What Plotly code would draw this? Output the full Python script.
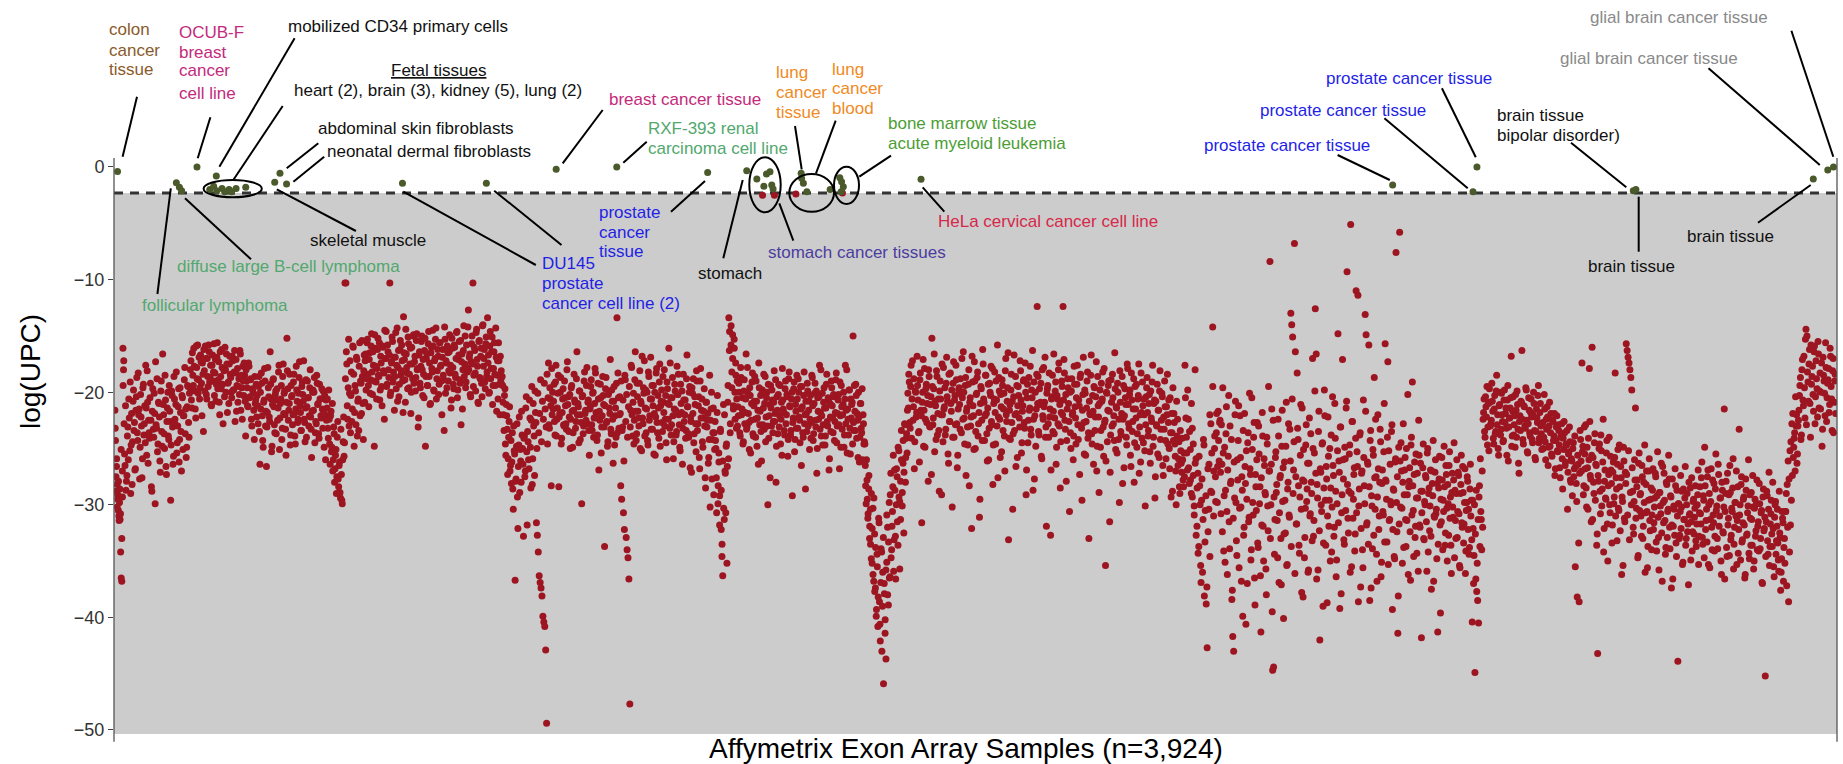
import numpy as np
import plotly.graph_objects as go

W, H = 1843, 764
ML, MR = 114, 6
PW = W - ML - MR
Y_TOP, Y_BOTTOM = 14.83, -53.02   # value range spanned by the full figure height

N_SAMPLES = 3924
THRESHOLD = -2.3
PANEL_BOTTOM = -50.35

# ---------------- data (log(UPC) per sample) ----------------
# red samples: consecutive blocks of sample indices; two interleaved value runs per block
seg_bounds = [2, 23, 173, 326, 485, 526, 572, 884, 1000, 1152, 1369, 1421, 1710,
              1808, 2439, 2519, 3118, 3339, 3612, 3835, 3922]

segA = [-21.6, -24.3, -27.5, -25.9, -28.2, -29.1, -30.5, -31.0, -29.8, -31.3, -34.2, -36.5, -36.8, -27.0, -16.1, -18.0]
segB = [-22.8, -26.5, -28.7, -27.4, -23.1, -20.6, -25.2, -29.0, -21.9, -24.4, -19.8, -22.7, -26.8, -20.4, -23.6, -18.3, -21.5, -24.9, -22.2, -27.6,
        -19.6, -23.8, -21.2, -17.6, -25.6, -20.9, -22.5, -24.1, -19.2, -28.4, -21.7, -23.3, -20.1, -29.9, -22.9, -18.8, -24.6, -21.0, -26.1, -19.9,
        -23.5, -16.6, -22.0, -25.0, -20.7, -27.3, -21.4, -23.9, -19.4, -22.6, -24.7, -20.3, -26.4, -18.6, -22.4, -21.1, -25.4, -23.0, -19.7, -24.2,
        -21.8, -27.0, -20.5, -22.1, -18.9, -23.7, -25.8, -21.3, -19.5, -24.0]
segC = [-19.6, -17.2, -21.4, -18.5, -16.1, -19.9, -22.3, -17.8, -15.8, -18.9, -20.6, -16.7, -19.2, -17.4, -23.5, -18.1, -15.9, -20.2, -17.0, -19.5,
        -16.4, -18.7, -21.1, -17.6, -19.0, -15.7, -18.3, -20.8, -16.9, -19.7, -17.3, -22.0, -18.6, -16.2, -19.3, -17.9, -20.4, -18.0, -16.6, -21.8,
        -19.1, -17.5, -18.4, -20.0, -16.8, -19.8, -18.2, -22.6, -17.1, -19.4, -20.9, -18.8, -16.3, -21.6, -19.6, -17.7, -20.3, -18.5, -23.9, -19.0,
        -21.2, -17.4, -20.5, -18.9, -22.4, -19.7, -20.1, -24.2, -21.0, -19.3]
segD = [-20.3, -22.8, -18.6, -26.4, -21.5, -19.2, -24.3, -20.9, -17.9, -23.0, -26.6, -21.8, -19.6, -22.2, -16.4, -20.6, -24.8, -18.9, -21.3, -23.6,
        -19.9, -20.7, -22.5, -18.2, -25.1, -21.0, -19.4, -23.2, -17.5, -20.1, -22.0, -25.6, -15.2, -19.7, -21.6, -18.4, -23.8, -20.4, -22.9, -19.1,
        -21.9, -24.6, -17.7, -20.8, -22.4, -18.7, -21.2, -23.4, -19.5, -20.2, -17.2, -22.7, -21.4, -24.0, -19.0, -20.5, -22.1, -18.0, -23.3, -21.7,
        -19.8, -20.0, -24.5, -22.6, -18.5, -21.1, -23.7, -19.3, -20.6, -22.3, -21.5, -19.9, -24.9, -22.0, -20.7]
segE = [-21.4, -23.2, -19.8, -24.6, -22.1, -25.3, -21.0, -26.0, -23.7, -26.8, -25.1, -27.5, -22.6, -28.4, -26.2, -29.4, -27.3, -29.9, -24.4, -25.7]
segF = [-10.3, -10.3, -17.5, -22.4, -15.3, -20.1, -23.6, -18.2, -21.5, -16.0, -24.8, -19.4, -22.9, -17.1, -20.8, -23.4, -15.6, -19.0, -21.9, -18.6,
        -24.2, -16.7]
segG = [-17.2, -19.8, -15.6, -18.4, -21.3, -16.5, -18.9, -14.8, -20.2, -17.6, -24.8, -16.1, -19.1, -17.9, -15.2, -18.6, -20.7, -16.8, -19.5, -15.9,
        -18.1, -22.4, -17.0, -14.6, -19.3, -16.4, -18.7, -10.3, -20.0, -17.4, -15.5, -18.2, -21.6, -16.9, -19.7, -14.3, -17.8, -20.4, -16.2, -18.5,
        -15.8, -19.0, -13.3, -17.1, -20.9, -16.6, -18.3, -15.1, -19.6, -17.5, -21.9, -16.0, -18.8, -14.9, -17.3, -19.9, -15.4, -18.0, -23.1, -16.7,
        -19.2, -17.7, -15.0, -20.3, -18.4, -16.3, -24.8, -17.0, -19.4, -15.7, -18.6, -21.1, -16.5, -17.9, -14.5, -19.8, -17.2, -15.3, -20.6, -18.1,
        -16.8, -19.3, -15.6, -17.6, -22.0, -16.2, -18.9, -14.2, -20.1, -17.4, -15.9, -19.0, -16.4, -18.3, -21.4, -15.2, -17.8, -19.7, -16.0, -18.7,
        -14.7, -20.5, -17.1, -15.5, -19.2, -22.9, -16.6, -18.0, -14.1, -17.5, -19.6, -15.8, -18.2, -12.7, -16.9, -20.2, -17.3, -15.0, -10.3, -18.5,
        -16.3, -19.9, -14.4, -17.7, -21.0, -15.4, -18.8, -16.1, -20.4, -14.0, -17.0, -19.1, -15.7, -18.6, -13.4, -16.7, -20.0, -14.6, -17.9, -15.1,
        -19.4, -16.4, -18.4, -14.3, -21.7, -17.2, -15.6, -19.3, -16.8, -18.1]
segH = [-18.6, -20.9, -23.4, -19.7, -25.6, -22.1, -27.3, -24.0, -21.3, -26.5, -28.1, -23.6, -30.4, -25.2, -36.7, -27.7, -22.8, -32.1, -24.7, -28.9,
        -26.1, -21.7, -25.0, -32.8, -23.9, -27.0, -20.4, -31.8, -24.4, -26.8, -22.3, -28.5, -19.5, -25.9, -23.0, -27.4, -21.8, -31.6, -32.7, -34.2,
        -36.3, -36.9, -37.4, -38.1, -39.9, -40.4, -40.8, -42.9, -49.4, -24.6, -17.4, -23.2, -20.6, -28.3, -22.0]
segI = [-21.5, -19.3, -23.8, -17.6, -22.4, -20.1, -28.4, -21.9, -18.7, -24.1, -20.6, -22.9, -19.0, -21.2, -23.3, -17.3, -20.4, -22.2, -25.0, -19.6,
        -21.7, -23.6, -18.4, -20.9, -22.6, -16.4, -21.0, -24.5, -19.9, -22.0, -29.9, -20.3, -23.0, -18.2, -21.6, -19.4, -22.8, -20.7, -25.6, -21.3,
        -18.9, -23.4, -20.0, -22.3, -17.9, -21.8, -24.3, -19.2, -26.9, -22.5, -20.5, -23.1, -18.6, -21.1, -33.7, -19.7, -22.7, -24.8, -20.2, -21.4,
        -17.1, -23.7, -20.8, -26.3, -19.5, -22.1, -24.0, -13.4, -18.3, -23.2]
segJ = [-20.4, -28.3, -29.5, -23.1, -30.7, -32.2, -18.9, -32.9, -34.0, -34.7, -36.6, -47.7, -21.6, -17.8, -23.9, -20.1, -22.5, -16.4, -24.3, -19.2,
        -21.7, -23.0, -18.1, -20.8, -25.2, -22.3, -19.6, -17.2, -21.4, -23.6, -20.0, -24.7, -18.6, -22.1, -16.9, -20.6, -23.3, -19.4, -21.9, -25.6,
        -18.3, -22.7, -20.3, -24.1, -17.5, -21.2, -19.8, -23.5, -20.9, -18.0, -22.4, -24.5, -19.1, -21.0, -16.1, -23.2, -20.5, -22.9, -18.7, -25.9,
        -21.5, -19.9, -23.8, -17.7, -20.2, -22.0, -24.9, -19.3, -21.8, -26.4, -18.4, -22.6, -20.7, -23.4, -16.7, -21.3, -24.0, -19.5, -22.2, -27.1,
        -20.1, -18.8, -23.7, -21.1, -25.3, -19.0, -22.8, -20.4, -26.8, -17.9, -21.6, -24.4, -22.3, -19.7, -27.6, -20.9, -23.1, -21.9, -25.8, -18.5,
        -22.5, -20.0, -24.2, -21.4, -23.6]
segK = [-22.6, -25.0, -30.7, -20.3, -28.3, -26.2, -29.2, -23.5, -32.2, -34.6, -36.3, -21.1, -31.3, -27.0, -30.7, -24.6, -26.6, -19.4, -13.4, -14.6,
        -22.8, -14.1, -18.2, -14.9, -21.5, -15.3, -20.0, -17.4, -23.2, -19.0]
segL = [-21.3, -19.2, -23.6, -17.8, -22.0, -20.5, -24.4, -18.9, -21.8, -16.6, -23.1, -20.1, -22.7, -19.6, -25.4, -21.0, -18.3, -23.9, -20.8, -22.4,
        -19.0, -24.8, -21.6, -17.4, -22.9, -20.3, -26.1, -19.8, -21.4, -23.3, -18.6, -22.2, -20.0, -30.0, -24.1, -21.1, -19.4, -23.0, -20.7, -22.6,
        -18.1, -21.9, -28.0, -20.4, -23.7, -19.3, -22.1, -24.6, -20.9, -17.9, -21.5, -23.4, -19.7, -22.8, -20.2, -25.7, -18.8, -21.2, -23.8, -20.6,
        -29.2, -22.3, -19.1, -24.2, -21.7, -18.5, -23.2, -20.0, -22.5, -19.5, -26.5, -21.3, -24.0, -18.2, -22.0, -20.8, -23.5, -19.9, -21.6, -25.1,
        -20.3, -22.7, -18.7, -24.3, -21.0, -19.2, -23.1, -27.2, -20.5, -22.4, -17.6, -21.8, -23.9, -20.1, -22.9, -19.6, -24.7, -21.4, -18.4, -23.0,
        -20.7, -25.9, -22.2, -19.0, -21.2, -23.6, -20.4, -22.6, -18.9, -24.5, -21.9, -20.2, -26.8, -22.1, -19.4, -23.3, -21.1, -24.9, -20.6, -22.8,
        -18.0, -21.5, -23.8, -19.8, -25.5, -22.3, -20.9, -15.0, -23.4, -21.7, -19.3, -24.1, -22.5, -20.0, -26.2, -21.0, -23.2, -19.7, -22.0, -24.6]
segM = [-24.6, -28.3, -26.0, -29.5, -30.8, -27.4, -31.9, -33.5, -29.0, -35.2, -30.3, -36.8, -32.6, -37.4, -39.9, -34.4, -40.8, -31.2, -38.6, -42.1,
        -33.9, -43.0, -36.0, -45.9, -37.9, -40.2, -43.7, -35.1, -32.0, -38.9, -29.8, -36.4, -27.2, -34.0, -30.6, -25.6, -33.1, -28.7, -36.6, -26.8,
        -31.5, -24.9, -29.3, -35.7, -27.9, -23.4, -30.1, -26.3, -32.5, -22.8, -28.0, -24.1, -25.4]
segN = [-20.1, -18.4, -22.7, -19.5, -24.1, -17.2, -21.3, -26.8, -19.9, -22.2, -16.8, -20.7, -23.5, -18.9, -21.6, -31.6, -20.0, -24.8, -17.9, -22.4,
        -19.3, -21.0, -27.9, -18.6, -23.1, -20.4, -15.2, -22.9, -19.7, -25.3, -21.2, -18.1, -23.8, -20.6, -28.8, -19.0, -22.0, -17.5, -24.4, -21.5,
        -19.6, -23.3, -16.9, -20.8, -26.3, -22.6, -18.3, -21.7, -30.2, -19.2, -24.0, -20.3, -17.6, -22.8, -25.6, -19.8, -21.1, -18.8, -23.6, -20.5,
        -16.4, -22.3, -19.4, -27.4, -21.4, -24.7, -18.0, -20.9, -23.0, -32.1, -19.1, -22.1, -17.3, -25.0, -20.2, -18.7, -23.9, -21.8, -29.5, -19.5,
        -22.5, -16.2, -20.6, -24.3, -18.5, -21.9, -26.1, -19.3, -23.2, -20.0, -17.7, -22.9, -28.2, -21.0, -18.2, -24.6, -20.7, -15.8, -22.2, -19.9,
        -25.8, -21.3, -18.9, -23.4, -20.1, -27.0, -17.0, -22.6, -19.6, -33.1, -21.6, -24.2, -18.4, -20.8, -23.7, -16.7, -22.0, -26.6, -19.4, -21.2,
        -20.3, -23.1, -18.1, -25.4, -21.7, -19.0, -22.7, -17.4, -29.1, -20.5, -24.5, -18.7, -21.4, -23.3, -19.8, -16.3, -22.4, -27.7, -20.0, -21.5,
        -12.4, -18.6, -23.8, -21.1, -19.2, -25.9, -22.1, -17.8, -20.9, -24.0, -31.9, -19.7, -22.8, -18.3, -21.5, -26.9, -20.4, -23.5, -16.6, -22.3,
        -19.1, -24.9, -20.6, -18.0, -23.0, -28.5, -21.8, -19.5, -12.4, -17.1, -22.5, -20.2, -24.3, -18.8, -21.0, -30.6, -23.6, -19.9, -22.0, -26.0,
        -17.7, -21.3, -24.6, -19.3, -22.9, -20.7, -27.3, -18.4, -23.2, -21.6, -16.9, -25.5, -20.1, -22.6, -19.0, -24.1, -33.0, -21.9, -18.5, -23.7,
        -20.3, -26.4, -19.6, -22.2, -17.3, -24.8, -21.2, -28.9, -19.8, -23.4, -20.8, -18.2, -25.7, -22.7, -35.4, -20.0, -24.4, -19.4, -21.7, -27.1,
        -18.9, -23.0, -20.5, -22.1, -16.5, -25.1, -21.4, -19.2, -24.2, -29.8, -20.9, -23.8, -18.6, -22.4, -26.7, -19.7, -21.1, -24.7, -17.9, -22.8,
        -20.2, -25.6, -18.3, -23.5, -21.5, -28.0, -19.5, -22.3, -24.9, -20.6, -17.5, -23.1, -26.2, -21.8, -19.1, -24.5, -22.0, -30.1, -20.4, -18.7,
        -23.9, -21.0, -25.3, -19.9, -22.6, -17.6, -24.0, -20.7, -27.5, -22.9, -19.3, -21.6, -25.8, -18.1, -23.3, -20.1, -26.5, -22.2, -19.0, -24.3,
        -21.3, -18.4, -22.7, -25.0, -20.5, -29.3, -23.6, -19.6, -21.9, -24.6, -27.0, -20.8, -22.4, -25.9, -28.4, -23.4, -26.3, -24.1, -27.8, -25.4]
segO = [-17.6, -22.3, -25.4, -19.8, -26.7, -23.5, -27.8, -21.0, -29.3, -24.6, -30.1, -18.0, -25.9, -31.9, -27.2, -33.7, -28.3, -35.4, -29.6, -36.0,
        -24.2, -38.1, -30.5, -38.8, -42.7, -32.4, -26.4, -34.6, -22.8, -28.9, -14.2, -31.0, -25.0, -27.5, -23.6, -29.8, -21.7, -26.1]
segP = [-22.5, -30.8, -26.4, -19.6, -34.1, -24.9, -28.7, -21.3, -36.2, -25.7, -31.5, -23.0, -27.9, -38.4, -41.7, -43.0, -29.4, -20.8, -33.2, -26.0,
        -24.3, -35.6, -22.1, -30.2, -27.5, -39.9, -32.7, -21.9, -28.1, -25.2, -37.0, -23.6, -31.1, -26.8, -34.9, -20.5, -29.8, -24.0, -36.5, -27.3,
        -30.5, -22.7, -33.8, -25.5, -28.4, -41.3, -31.8, -23.9, -35.0, -26.5, -29.1, -38.0, -24.6, -32.3, -27.0, -8.4, -30.0, -21.5, -44.7, -44.4,
        -34.4, -25.8, -28.9, -31.4, -22.4, -36.9, -27.6, -33.0, -24.8, -29.7, -40.1, -26.2, -32.5, -20.9, -35.3, -28.0, -30.9, -23.3, -13.0, -14.0,
        -15.1, -26.9, -6.8, -16.4, -31.7, -18.3, -24.2, -33.6, -29.3, -21.1, -37.8, -27.8, -25.1, -34.7, -30.3, -22.9, -28.6, -36.0, -26.3, -31.0,
        -23.7, -29.0, -17.0, -32.8, -25.4, -12.6, -16.6, -28.2, -35.8, -21.7, -42.0, -27.1, -30.6, -24.5, -33.4, -19.8, -29.6, -26.6, -38.7, -22.2,
        -31.9, -25.0, -28.5, -34.2, -20.4, -27.4, -32.0, -24.1, -36.4, -29.9, -14.8, -26.1, -39.2, -23.1, -30.7, -17.1, -27.7, -33.5, -25.9, -21.4,
        -9.3, -31.2, -28.8, -24.7, -5.1, -35.5, -22.6, -29.5, -26.7, -32.6, -11.0, -25.3, -11.4, -30.1, -23.8, -37.3, -27.2, -34.0, -20.7, -28.3,
        -13.1, -14.9, -31.6, -26.4, -15.8, -38.5, -23.4, -29.2, -33.9, -25.6, -18.7, -30.4, -27.5, -36.8, -22.0, -32.2, -28.0, -24.4, -35.1, -26.9,
        -30.9, -21.0, -15.7, -27.9, -33.3, -17.3, -25.2, -31.3, -29.7, -23.5, -39.3, -28.6, -34.6, -26.2, -7.6, -32.4, -41.4, -24.9, -5.8, -30.2,
        -27.0, -35.2, -22.8, -29.1, -25.8, -33.7, -31.4, -20.2, -28.4, -26.7, -36.7, -24.0, -19.1, -30.5, -27.3, -32.9, -25.5, -34.3, -29.4, -22.5,
        -31.8, -26.3, -41.8, -28.8, -24.6, -33.1, -30.0, -27.6, -35.9, -25.0, -29.0, -32.3, -26.9, -37.5, -28.1, -24.3, -31.0, -27.1, -30.8, -34.8,
        -41.3, -28.5, -25.7, -39.6, -31.5, -27.8, -29.6, -24.8, -33.6, -26.5, -30.3, -28.2, -32.7, -25.3, -29.3, -36.1, -27.2, -31.1, -24.5, -28.7,
        -33.0, -26.0, -30.6, -27.4, -35.4, -29.0, -25.6, -32.0, -28.9, -31.7, -26.8, -34.1, -29.8, -27.9, -30.4, -33.8, -26.4, -29.6, -40.4, -32.1,
        -34.5, -44.9, -36.6, -37.7, -38.5, -40.5, -28.3, -25.9, -31.3, -27.0]
segQ = [-22.4, -20.6, -24.0, -21.3, -19.5, -23.1, -25.2, -20.9, -22.8, -19.2, -21.7, -24.6, -20.3, -23.5, -18.5, -22.0, -25.6, -21.1, -23.8, -20.1,
        -22.6, -24.3, -19.8, -21.9, -23.2, -20.7, -26.1, -22.3, -21.4, -16.8, -23.9, -20.4, -22.9, -24.9, -21.6, -19.9, -23.3, -27.2, -22.1, -20.8,
        -16.3, -24.2, -21.2, -23.0, -19.6, -22.5, -25.4, -20.5, -23.6, -21.8, -22.2, -24.5, -20.0, -23.4, -26.0, -21.5, -22.7, -19.4, -24.1, -21.0,
        -23.7, -22.9, -25.0, -20.2, -24.4, -22.4, -21.3, -26.5, -23.0, -24.8, -21.9, -25.7, -22.6, -23.9, -27.4, -24.3, -22.1, -25.3, -23.4, -26.7,
        -24.0, -22.8, -28.6, -25.1, -23.6, -26.2, -24.7, -30.4, -25.5, -23.1, -27.8, -25.9, -29.2, -24.5, -26.8, -35.5, -28.1, -38.2, -26.4, -38.6]
segR = [-23.4, -26.1, -17.4, -24.8, -28.3, -25.5, -22.9, -30.2, -26.7, -24.1, -17.9, -27.4, -31.5, -16.0, -25.8, -29.0, -23.7, -26.4, -33.6, -43.2,
        -27.9, -24.6, -30.8, -25.2, -28.6, -22.4, -32.1, -26.9, -29.5, -24.3, -35.0, -27.3, -30.0, -25.7, -28.1, -31.8, -26.2, -29.3, -18.3, -27.6,
        -33.2, -25.1, -30.5, -28.4, -26.6, -36.2, -29.7, -24.9, -31.2, -27.1, -15.7, -16.3, -16.9, -17.4, -18.0, -18.7, -19.8, -28.8, -32.6, -26.0,
        -21.4, -30.3, -27.8, -34.5, -25.4, -29.1, -31.0, -26.5, -33.0, -28.0, -24.7, -30.7, -27.0, -35.6, -29.6, -25.9, -32.3, -28.5, -30.9, -26.8,
        -31.6, -29.4, -27.5, -34.1, -25.3, -32.9, -28.9, -30.1, -26.3, -36.8, -29.8, -27.2, -31.4, -33.8, -28.2, -30.6, -25.6, -32.0, -29.2, -37.4,
        -27.7, -31.9, -30.4, -26.8, -33.4, -28.7, -43.9, -29.9, -32.7, -27.4, -30.2, -35.3, -28.6, -31.3, -26.6, -33.0, -29.0, -31.7, -28.0, -30.8,
        -34.9, -27.6, -32.4, -29.5, -31.1, -28.3, -33.7, -30.0, -26.9, -32.8]
segS = [-28.4, -31.7, -26.2, -33.5, -29.6, -24.9, -32.2, -30.4, -27.5, -35.3, -29.0, -31.3, -26.8, -34.0, -30.9, -28.1, -32.8, -25.5, -30.1, -33.9,
        -27.3, -31.0, -29.4, -36.2, -28.7, -32.5, -21.5, -30.6, -27.9, -34.6, -31.8, -29.1, -26.5, -33.1, -30.3, -28.5, -35.7, -32.0, -29.8, -27.0,
        -31.4, -34.3, -23.3, -30.0, -28.2, -33.3, -31.6, -29.3, -36.5, -27.7, -32.7, -30.7, -26.0, -34.8, -31.2, -28.9, -33.6, -30.2, -35.0, -29.5,
        -32.3, -27.8, -31.9, -34.1, -29.9, -33.0, -30.5, -37.0, -28.6, -32.1, -45.2, -31.5, -29.2, -34.4, -27.1, -33.7, -30.8, -32.6, -28.0, -35.5,
        -31.1, -29.7, -33.2, -30.4, -34.9, -28.8, -32.9, -36.0, -30.6, -31.6, -33.8, -35.2, -30.6, -37.2, -32.0, -38.6, -34.2, -31.8, -29.6, -27.4,
        -25.8, -24.1, -27.0, -23.0, -26.3]
segT = [-23.0, -21.6, -19.4, -24.2, -18.0, -20.7, -16.8, -22.3, -14.4, -15.0, -19.1, -17.5, -21.0, -15.8, -18.6, -20.2, -16.4, -22.8, -17.2, -19.7,
        -15.5, -21.4, -18.3, -20.0, -24.8, -16.9, -19.0, -22.1, -17.8, -20.5, -18.9, -21.8, -16.1, -19.5, -23.4, -17.0, -20.9, -18.4]

# second interleaved run of samples in each block
segA2 = [-23.2, -28.8, -26.6, -30.2, -29.5, -27.9, -31.4, -28.6, -30.8, -25.1, -33.0, -29.3, -19.4, -17.2]
segB2 = [-25.5, -21.2, -27.9, -23.9, -26.0, -22.3, -19.1, -24.7, -28.2, -20.8, -23.4, -26.9, -21.6, -18.7, -24.3, -22.0, -27.7, -20.2, -23.0, -25.9,
         -19.3, -22.8, -24.5, -21.4, -18.1, -26.3, -23.6, -20.5, -22.5, -28.8, -19.7, -24.0, -21.9, -17.3, -23.2, -25.3, -20.9, -22.2, -27.1, -19.0,
         -24.8, -21.1, -23.7, -18.5, -26.6, -22.6, -20.0, -24.2, -21.7, -29.6, -19.9, -23.1, -25.7, -20.6, -22.9, -18.2, -24.5, -21.3, -26.2, -19.6,
         -23.5, -20.3, -25.1, -22.1, -17.8, -21.5, -24.9, -19.4, -22.7, -20.1]
segC2 = [-18.0, -20.7, -16.5, -19.4, -17.7, -21.5, -15.9, -18.8, -20.1, -16.9, -19.6, -17.3, -22.1, -18.4, -16.2, -19.9, -17.0, -20.6, -18.6, -15.8,
         -19.1, -17.6, -21.2, -16.7, -18.2, -20.3, -17.1, -19.3, -15.6, -18.9, -20.9, -16.4, -19.7, -17.8, -22.8, -18.1, -16.0, -20.0, -17.5, -19.2,
         -21.0, -16.8, -18.7, -20.5, -17.2, -19.8, -16.3, -18.3, -21.7, -17.9, -19.5, -20.2, -16.6, -18.5, -22.4, -19.0, -17.4, -20.8, -18.0, -19.6,
         -21.3, -17.7, -20.4, -18.8, -23.0, -19.9, -21.6, -18.6, -20.7, -22.2]
segD2 = [-21.2, -19.5, -23.5, -20.0, -18.3, -22.1, -24.9, -20.7, -19.0, -21.7, -23.1, -17.8, -20.4, -22.6, -19.3, -25.3, -21.1, -18.8, -22.9, -20.2,
         -23.7, -19.7, -21.4, -17.6, -22.3, -20.6, -24.2, -18.6, -21.9, -19.9, -23.3, -20.9, -18.1, -22.5, -21.0, -24.7, -19.4, -20.3, -22.0, -18.4,
         -23.9, -21.5, -19.8, -22.7, -20.1, -17.3, -21.8, -23.4, -19.1, -20.8, -22.4, -24.4, -18.9, -21.3, -20.5, -23.0, -19.6, -22.2, -25.8, -20.0,
         -21.6, -18.7, -23.6, -22.8, -19.2, -21.0, -24.1, -20.6, -22.1, -19.7, -23.2, -21.9, -20.3, -26.0, -22.5]
segE2 = [-20.6, -24.1, -22.4, -26.4, -21.7, -24.9, -27.0, -23.1, -28.0, -25.6, -29.0, -24.0, -27.7, -26.5, -28.9, -23.3, -29.6, -26.0, -22.2, -24.5]
segF2 = [-18.8, -16.4, -21.2, -19.6, -23.0, -17.2, -20.3, -22.6, -15.9, -18.4, -21.8, -19.9, -16.9, -23.9, -20.6, -17.7, -22.1, -19.2, -15.4, -21.0,
         -18.1, -20.9]
segG2 = [-16.6, -18.8, -15.3, -19.4, -17.1, -20.1, -15.9, -18.2, -16.4, -19.0, -14.9, -17.7, -20.6, -16.2, -18.5, -15.6, -19.8, -17.4, -21.2, -16.0,
         -18.3, -14.5, -17.0, -19.5, -15.8, -18.0, -16.7, -20.3, -17.3, -15.1, -19.1, -16.9, -18.6, -14.7, -17.6, -20.8, -16.3, -19.3, -15.4, -18.1,
         -17.2, -21.8, -16.5, -18.9, -14.4, -17.8, -19.7, -15.7, -18.4, -16.1, -20.0, -17.5, -15.0, -19.2, -16.8, -18.7, -14.8, -17.9, -22.3, -16.4,
         -19.6, -15.5, -18.0, -17.1, -20.5, -15.2, -18.6, -16.6, -19.4, -14.6, -17.4, -21.0, -16.0, -18.2, -15.9, -19.9, -17.0, -14.3, -18.8, -16.2,
         -20.2, -15.6, -17.7, -19.0, -16.9, -18.5, -23.4, -15.3, -17.2, -19.6, -16.5, -18.1, -14.9, -17.6, -20.7, -16.1, -19.3, -15.8, -18.4, -17.0,
         -14.6, -19.8, -16.7, -18.9, -15.4, -17.3, -21.5, -16.3, -18.6, -15.0, -19.1, -17.8, -14.2, -18.0, -16.6, -20.4, -15.7, -17.5, -19.5, -16.0,
         -18.3, -14.7, -17.1, -20.9, -15.5, -18.7, -16.8, -19.2, -14.1, -17.7, -16.2, -19.7, -15.1, -18.2, -17.4, -20.1, -15.9, -18.8, -16.4, -21.1,
         -17.9, -15.6, -19.4, -16.9, -18.5, -20.6, -17.2, -22.0, -18.9, -19.3]
segH2 = [-19.4, -22.0, -20.3, -24.6, -21.1, -23.3, -25.9, -22.6, -27.0, -24.3, -26.2, -28.6, -23.0, -25.5, -27.9, -24.8, -29.3, -26.6, -22.2, -25.1,
         -28.0, -23.8, -26.4, -24.1, -27.5, -21.4, -25.3, -23.5, -26.0, -20.7, -24.9, -22.5, -28.2, -21.0, -23.9, -19.9, -22.7, -25.0, -20.1, -23.6,
         -21.9, -18.9, -24.4, -20.8, -22.4, -19.2, -21.5, -23.1, -18.4, -20.5, -22.9, -19.6, -21.2, -17.9, -20.0]
segI2 = [-20.8, -22.6, -19.1, -23.9, -21.4, -18.5, -22.2, -20.0, -24.6, -21.8, -19.7, -23.0, -20.5, -22.8, -18.0, -21.1, -23.5, -20.2, -22.4, -19.4,
         -24.9, -21.6, -20.7, -23.2, -18.8, -22.0, -21.3, -19.9, -24.2, -22.7, -20.4, -23.7, -19.0, -21.9, -22.5, -17.8, -20.9, -23.4, -21.5, -19.5,
         -22.9, -20.1, -24.0, -21.0, -18.3, -22.3, -23.8, -20.6, -21.7, -19.3, -25.4, -22.1, -20.3, -23.1, -21.2, -18.7, -22.6, -24.4, -20.0, -21.9,
         -23.3, -19.8, -22.4, -20.8, -24.7, -21.4, -19.2, -23.6, -20.5, -22.0]
segJ2 = [-21.9, -19.0, -23.4, -20.7, -26.1, -18.5, -22.6, -20.2, -24.0, -21.3, -19.5, -23.1, -17.6, -22.0, -20.9, -24.6, -18.9, -21.7, -23.7, -20.4,
         -22.3, -19.2, -25.0, -21.0, -16.8, -22.8, -20.1, -23.9, -19.8, -21.5, -24.3, -18.2, -22.5, -20.6, -23.3, -19.4, -21.2, -25.5, -20.0, -22.2,
         -17.9, -23.6, -21.4, -19.1, -24.8, -20.8, -22.7, -18.6, -21.8, -23.0, -20.3, -26.0, -19.7, -22.4, -21.1, -17.4, -23.8, -20.5, -22.1, -24.4,
         -19.3, -21.6, -23.5, -20.2, -18.4, -22.9, -25.2, -21.0, -19.9, -23.2, -20.7, -22.0, -24.1, -18.8, -21.3, -23.7, -20.0, -26.7, -22.6, -19.6,
         -21.9, -24.5, -20.4, -22.8, -18.1, -23.4, -21.2, -25.8, -19.0, -22.3, -20.6, -24.9, -21.7, -23.0, -28.5, -20.9, -22.5, -26.3, -24.2, -30.2,
         -21.5, -27.7, -23.6, -29.1, -25.1]
segK2 = [-24.3, -27.6, -21.8, -29.9, -25.4, -31.8, -23.3, -28.7, -33.5, -26.1, -30.3, -22.0, -27.2, -24.8, -35.2, -20.9, -25.9, -16.3, -23.6, -15.8,
         -19.6, -17.0, -21.2, -16.1, -22.4, -18.5, -20.6, -23.0]
segL2 = [-22.1, -20.0, -23.9, -18.7, -21.5, -24.6, -19.9, -22.8, -20.6, -23.3, -17.8, -21.9, -25.1, -20.3, -22.5, -19.1, -23.7, -21.2, -18.6, -24.0,
         -20.8, -22.3, -26.4, -19.6, -21.7, -23.5, -20.1, -22.9, -18.4, -21.0, -24.4, -20.5, -23.0, -19.3, -22.1, -27.6, -21.4, -19.8, -23.6, -20.9,
         -22.6, -18.9, -24.8, -21.6, -20.2, -23.1, -19.4, -22.4, -25.6, -20.7, -21.8, -23.8, -19.0, -22.0, -20.4, -24.2, -18.2, -21.3, -23.4, -20.0,
         -22.7, -19.7, -25.3, -21.1, -23.2, -20.6, -18.8, -22.2, -24.5, -21.5, -19.5, -23.6, -20.3, -22.8, -28.6, -21.9, -19.2, -23.0, -20.8, -22.4,
         -24.1, -18.5, -21.2, -23.7, -20.1, -22.5, -19.9, -25.0, -21.7, -20.4, -23.3, -18.0, -22.1, -24.7, -20.9, -21.4, -23.9, -19.3, -22.6, -20.5,
         -26.9, -21.0, -23.5, -19.6, -22.3, -20.2, -24.3, -21.8, -18.3, -23.0, -20.7, -22.9, -19.1, -24.9, -21.3, -22.0, -20.0, -23.8, -17.6, -21.6,
         -25.4, -22.4, -19.8, -23.2, -20.6, -21.1, -24.6, -22.7, -19.4, -23.4, -20.3, -21.9, -25.8, -22.2, -24.0, -21.0, -23.6, -26.0, -22.8, -24.4]
segM2 = [-26.5, -29.9, -27.8, -31.2, -28.6, -33.0, -30.4, -34.8, -32.1, -36.2, -29.4, -37.7, -33.8, -39.3, -35.5, -38.2, -31.6, -40.6, -36.9, -34.2,
         -39.0, -32.9, -37.0, -41.4, -35.8, -30.9, -38.0, -33.3, -36.5, -29.1, -34.7, -31.9, -28.4, -35.9, -26.9, -32.8, -30.0, -27.5, -33.6, -25.2,
         -29.7, -31.3, -26.0, -28.9, -24.3, -27.1, -22.9, -25.8, -23.7, -21.6]
segN2 = [-21.4, -19.1, -23.2, -17.6, -20.6, -22.5, -18.8, -24.4, -20.0, -21.8, -19.4, -23.6, -26.2, -18.3, -22.1, -20.9, -17.1, -21.6, -24.9, -19.7,
         -22.7, -20.3, -18.0, -23.0, -21.1, -27.3, -19.5, -22.3, -16.6, -20.8, -24.2, -18.6, -21.9, -23.4, -19.9, -20.6, -29.1, -22.0, -17.8, -21.3,
         -23.8, -19.2, -20.4, -25.5, -18.4, -22.6, -21.0, -19.8, -24.0, -17.3, -20.7, -22.9, -18.9, -26.7, -21.5, -19.6, -23.3, -20.2, -17.0, -22.4,
         -20.0, -24.6, -18.7, -21.7, -23.1, -19.3, -28.3, -20.5, -22.2, -16.8, -21.2, -25.1, -19.0, -23.5, -20.1, -18.2, -22.8, -31.1, -21.0, -19.7,
         -24.3, -17.5, -20.9, -22.1, -18.5, -23.7, -21.4, -26.0, -19.2, -20.3, -22.6, -17.9, -24.7, -20.6, -21.8, -19.0, -23.0, -27.6, -18.7, -22.4,
         -20.2, -25.3, -19.4, -21.5, -23.9, -18.1, -22.0, -20.8, -16.5, -24.1, -21.1, -19.8, -22.7, -30.4, -20.4, -23.4, -18.6, -21.9, -25.8, -19.5,
         -22.3, -17.2, -20.7, -24.5, -21.2, -18.9, -23.2, -20.0, -26.9, -19.3, -22.5, -21.6, -17.7, -23.8, -20.5, -28.7, -19.1, -22.1, -24.8, -18.4,
         -21.0, -23.5, -19.7, -20.9, -25.7, -18.0, -22.4, -21.3, -16.9, -23.1, -20.1, -19.4, -24.0, -22.2, -32.7, -20.6, -18.5, -21.7, -23.7, -19.9,
         -26.4, -20.3, -22.8, -17.4, -21.1, -24.4, -19.0, -22.0, -20.7, -18.3, -23.3, -27.9, -21.5, -19.6, -22.6, -20.0, -25.0, -18.8, -21.8, -23.9,
         -19.3, -22.3, -20.5, -17.6, -24.2, -21.2, -18.7, -23.0, -29.6, -20.2, -22.7, -19.8, -25.6, -21.4, -18.2, -23.6, -20.8, -22.0, -16.7, -24.6,
         -21.7, -19.5, -23.4, -20.4, -27.0, -18.6, -22.2, -21.0, -24.9, -19.2, -20.6, -23.1, -17.9, -22.5, -26.1, -20.1, -21.6, -19.0, -31.5, -23.8,
         -20.9, -18.4, -22.8, -24.3, -19.7, -21.3, -25.4, -20.0, -22.4, -18.1, -23.5, -21.9, -28.1, -19.4, -22.1, -20.5, -24.0, -17.5, -21.1, -23.2,
         -19.8, -26.6, -20.7, -22.6, -18.8, -24.5, -21.5, -19.3, -23.7, -20.3, -27.2, -22.0, -18.3, -24.1, -21.2, -20.6, -25.2, -22.9, -19.6, -21.8,
         -23.4, -20.2, -26.3, -22.3, -19.1, -24.8, -21.0, -29.4, -20.8, -23.0, -25.5, -21.6, -19.9, -24.2, -22.5, -20.4, -27.4, -23.3, -21.3, -25.9,
         -22.0, -24.6, -20.7, -26.8, -23.6, -21.9, -28.8, -24.3, -22.7, -25.7, -30.0, -23.9, -26.5, -24.4, -29.0, -25.2, -27.1, -26.0, -28.4, -27.5]
segO2 = [-20.5, -24.0, -26.9, -22.4, -28.1, -25.1, -29.0, -23.2, -27.4, -30.9, -26.3, -32.7, -28.5, -34.3, -25.7, -30.0, -36.9, -27.7, -31.3, -24.7,
         -33.3, -29.2, -37.3, -26.8, -30.4, -22.0, -28.8, -25.4, -19.5, -27.0, -23.9, -29.7, -21.9, -26.6, -24.3, -22.7]
segP2 = [-27.1, -22.9, -32.4, -25.4, -29.2, -35.1, -23.7, -30.6, -26.9, -20.3, -33.9, -28.1, -24.2, -37.6, -31.2, -26.2, -22.0, -29.8, -34.5, -27.8,
         -21.2, -30.3, -25.8, -36.8, -28.7, -23.4, -32.0, -26.6, -40.6, -29.5, -24.5, -31.5, -20.1, -27.3, -34.0, -25.1, -30.9, -22.7, -38.9, -28.4,
         -26.0, -33.4, -23.0, -29.9, -36.3, -27.6, -21.8, -31.9, -25.9, -28.9, -35.7, -24.0, -30.1, -19.5, -27.0, -33.0, -26.4, -39.5, -22.5, -29.3,
         -31.3, -25.3, -28.2, -34.7, -23.9, -30.7, -27.4, -37.1, -21.6, -26.7, -32.6, -29.6, -24.8, -35.4, -28.6, -22.8, -31.1, -26.1, -33.7, -20.6,
         -29.0, -24.4, -36.1, -27.5, -31.7, -23.2, -28.3, -34.3, -25.6, -30.4, -21.4, -38.2, -27.9, -32.9, -24.7, -29.7, -26.3, -35.8, -22.3, -30.8,
         -28.0, -33.2, -25.0, -31.4, -19.9, -27.2, -36.6, -29.4, -23.5, -32.3, -26.8, -30.0, -24.6, -39.0, -28.5, -22.1, -33.6, -27.7, -31.0, -25.7,
         -29.6, -35.0, -23.8, -30.2, -26.5, -32.8, -21.0, -28.8, -34.9, -25.2, -31.6, -27.1, -23.1, -37.9, -29.1, -26.0, -33.1, -24.9, -30.5, -20.8,
         -28.2, -32.5, -25.5, -36.0, -29.0, -22.6, -31.2, -27.3, -34.1, -24.1, -30.7, -26.6, -38.6, -28.6, -23.6, -32.1, -27.0, -35.6, -25.8, -29.9,
         -21.7, -31.8, -26.2, -33.5, -28.4, -24.3, -37.4, -30.1, -25.1, -32.7, -27.6, -22.4, -34.4, -29.3, -26.8, -31.0, -23.3, -36.4, -28.1, -30.6,
         -25.3, -33.3, -27.8, -29.5, -24.0, -35.3, -31.4, -26.4, -30.0, -22.9, -32.2, -28.7, -34.8, -25.9, -29.8, -27.5, -38.1, -31.7, -26.1, -24.5,
         -30.3, -28.0, -33.8, -26.9, -31.3, -25.0, -29.1, -36.2, -27.9, -32.4, -24.7, -30.9, -28.3, -34.6, -26.2, -31.9, -29.4, -27.2, -35.9, -25.6,
         -32.0, -28.8, -30.7, -26.7, -33.0, -29.7, -27.4, -31.5, -25.4, -34.2, -28.5, -30.1, -32.8, -27.0, -29.2, -36.8, -31.1, -26.0, -30.4, -28.1,
         -33.5, -27.7, -31.8, -29.5, -25.8, -34.0, -30.6, -28.4, -32.5, -27.3, -35.0, -29.9, -26.5, -31.2, -33.6, -28.9, -30.2, -27.8, -34.7, -31.4,
         -29.0, -32.9, -27.1, -30.8, -35.6, -28.2, -31.6, -26.6, -33.4, -29.8, -36.1, -30.5, -27.5, -32.2, -34.4, -28.6, -31.0, -33.1, -29.6, -37.0,
         -30.0, -32.6, -28.7, -35.2, -31.3, -29.3, -33.7, -30.6, -34.0, -32.0]
segQ2 = [-21.8, -23.5, -20.4, -22.2, -24.7, -21.0, -19.7, -23.0, -22.5, -20.8, -24.1, -21.5, -23.7, -19.9, -22.9, -25.0, -21.2, -20.0, -23.3, -22.0,
         -24.4, -20.7, -22.7, -21.4, -25.6, -19.4, -23.1, -22.3, -20.5, -24.8, -21.7, -23.8, -22.1, -20.2, -24.0, -21.1, -26.3, -22.6, -23.4, -20.9,
         -22.4, -24.6, -21.3, -23.2, -19.8, -25.3, -22.8, -21.6, -23.9, -20.6, -24.2, -22.0, -21.0, -25.8, -23.5, -22.3, -20.3, -24.5, -21.8, -23.0,
         -25.1, -22.7, -24.0, -21.5, -26.0, -23.3, -22.2, -24.9, -20.9, -23.6, -25.5, -22.5, -24.3, -21.9, -26.8, -23.1, -25.2, -22.9, -24.7, -27.6,
         -23.8, -25.9, -24.1, -22.6, -26.5, -24.6, -23.4, -27.1, -25.3, -24.4, -28.0, -26.1, -25.0, -27.5, -23.9, -26.6, -29.7, -25.6, -33.4, -27.2]
segR2 = [-24.2, -27.0, -25.3, -29.1, -23.1, -26.8, -28.5, -24.9, -30.4, -26.0, -22.6, -27.7, -25.6, -31.3, -28.0, -24.5, -29.6, -26.5, -32.6, -27.4,
         -25.0, -28.8, -23.8, -30.1, -26.2, -34.2, -27.9, -29.4, -25.4, -31.7, -28.3, -24.0, -30.7, -26.9, -33.4, -27.1, -29.9, -25.8, -31.0, -28.6,
         -26.4, -30.3, -24.7, -32.3, -27.6, -29.3, -35.4, -26.1, -31.5, -28.1, -27.3, -30.9, -25.2, -33.1, -28.9, -30.0, -26.7, -32.0, -29.7, -27.8,
         -31.2, -28.4, -34.7, -26.3, -30.5, -29.0, -32.8, -27.5, -31.9, -29.8, -36.0, -28.2, -30.6, -33.7, -27.0, -31.4, -29.5, -34.0, -28.7, -32.2,
         -30.2, -27.2, -33.3, -29.2, -31.1, -35.8, -28.9, -30.8, -32.5, -26.6, -31.6, -29.6, -34.4, -28.0, -32.9, -30.4, -27.7, -33.9, -29.3, -31.8,
         -36.6, -30.1, -32.7, -28.3, -34.6, -31.0, -29.9, -33.0, -30.6, -32.1, -28.8, -35.1, -31.3, -29.4, -33.6, -30.0, -32.4, -37.1, -30.9, -28.5,
         -31.5, -34.1, -29.7, -32.6, -30.3, -33.2, -31.7, -29.1, -35.3, -30.7]
segS2 = [-30.8, -27.6, -32.9, -29.2, -34.7, -28.3, -31.4, -33.3, -26.9, -30.0, -35.6, -29.7, -32.0, -27.8, -31.6, -34.1, -28.6, -30.5, -33.0, -26.4,
         -31.9, -29.4, -35.0, -28.0, -32.4, -30.2, -36.6, -29.0, -33.8, -27.2, -31.2, -34.5, -28.9, -32.7, -30.6, -25.9, -33.5, -29.8, -31.0, -35.3,
         -28.4, -32.2, -30.9, -34.9, -27.5, -33.1, -29.5, -31.8, -36.2, -28.7, -32.6, -30.1, -34.3, -29.1, -33.6, -31.3, -27.4, -35.7, -30.3, -32.8,
         -29.9, -34.0, -31.5, -28.1, -33.9, -30.7, -36.9, -29.3, -32.3, -31.1, -34.6, -28.8, -33.2, -30.4, -35.4, -31.7, -29.6, -33.7, -32.1, -36.4,
         -30.0, -34.4, -31.9, -33.4, -35.9, -32.5, -37.6, -34.8, -31.2, -36.8, -33.0, -30.6, -29.0, -28.2, -26.1, -27.7, -25.2, -24.4, -22.8, -21.9,
         -24.9, -23.6, -20.4, -22.0, -25.5]
segT2 = [-22.5, -20.3, -18.7, -23.8, -17.1, -21.2, -19.6, -15.3, -22.9, -18.2, -20.8, -16.2, -24.0, -19.3, -17.7, -21.7, -15.9, -20.4, -18.8, -22.2,
         -16.6, -19.9, -21.5, -17.4, -23.3, -18.5, -20.1, -15.6, -22.6, -19.2, -17.9, -21.1, -16.8, -20.6, -18.1, -23.6, -19.0, -21.9]

segments = [segA, segB, segC, segD, segE, segF, segG, segH, segI, segJ, segK, segL, segM,
            segN, segO, segP, segQ, segR, segS, segT]
segments2 = [segA2, segB2, segC2, segD2, segE2, segF2, segG2, segH2, segI2, segJ2, segK2, segL2, segM2,
             segN2, segO2, segP2, segQ2, segR2, segS2, segT2]

# red samples sitting just under the threshold
near_x = [1477, 1504, 1553, 1659]
near_y = [-2.5, -2.5, -2.4, -2.3]

# samples above the threshold (annotated)
green_x = [8, 142, 149, 154, 189, 233, 218, 227, 234, 246, 252, 262, 268, 278, 300,
           366, 378, 393, 657, 848, 1007, 1145, 1352, 1441,
           1464, 1480, 1486, 1494, 1498, 1501, 1565, 1566, 1570, 1578, 1631,
           1653, 1656, 1657, 1661, 1838, 2912, 3095, 3104, 3460, 3466, 3870, 3903, 3916]
green_y = [-0.4, -1.4, -1.8, -2.1, 0.0, -0.8, -2.0, -1.7, -2.1, -1.9, -2.2, -2.0, -2.2, -1.9, -1.8,
           -1.36, -0.56, -1.5, -1.45, -1.45, -0.2, 0.0, -0.5, -0.33,
           -1.07, -1.7, -0.62, -0.42, -1.6, -1.95, -0.56, -1.0, -1.45, -2.2, -2.0,
           -0.95, -2.2, -1.3, -1.75, -1.1, -1.6, -2.2, 0.0, -2.1, -2.0, -1.07, -0.27, 0.0]

y_ticks = [-50, -40, -30, -20, -10, 0]

# ---------------- build ----------------
red_x, red_y = [], []
for run, offset in ((segments, 0.0), (segments2, 0.5)):
    for i, vals in enumerate(run):
        lo, hi = seg_bounds[i], seg_bounds[i + 1]
        step = (hi - lo) / len(vals)
        xs = lo + step * (np.arange(len(vals)) + offset)
        red_x.extend(xs.tolist())
        red_y.extend(vals)
red_x += near_x
red_y += near_y

RED = "#9c1520"
GREEN = "#4a5a2b"
FONT = "Liberation Sans, Arial, Helvetica, sans-serif"

fig = go.Figure()
fig.add_trace(go.Scatter(x=red_x, y=red_y, mode="markers",
                         marker=dict(color=RED, size=7, line=dict(width=0)),
                         hoverinfo="skip", showlegend=False))
fig.add_trace(go.Scatter(x=green_x, y=green_y, mode="markers",
                         marker=dict(color=GREEN, size=7, line=dict(width=0)),
                         hoverinfo="skip", showlegend=False))


def px2x(px):
    return (px - ML) / PW


def py2y(py):
    return 1 - py / H


shapes = [
    dict(type="rect", xref="paper", yref="y", x0=0, x1=1, y0=PANEL_BOTTOM, y1=THRESHOLD,
         fillcolor="#cccccc", line=dict(width=0), layer="below"),
    dict(type="line", xref="paper", yref="y", x0=0, x1=1, y0=THRESHOLD, y1=THRESHOLD,
         line=dict(color="#333333", width=3, dash="9px,7px"), layer="below"),
    dict(type="line", xref="paper", yref="y", x0=0, x1=0, y0=0.8, y1=-51.05,
         line=dict(color="#555555", width=1.3)),
    dict(type="line", xref="paper", yref="y", x0=1, x1=1, y0=0.8, y1=-51.05,
         line=dict(color="#555555", width=1.3)),
]

# leader lines (figure pixel positions of the label ends / point ends)
leaders = [
    (137, 96.7, 122.6, 156.7), (210.4, 117.3, 197.7, 158.3), (294.6, 38.3, 219.4, 166.7),
    (282.7, 106, 233.3, 180), (318.3, 143.3, 286.7, 168.3), (324.2, 156.7, 293.4, 181.7),
    (355.9, 231, 276.8, 189.3), (251, 259.3, 185, 198.3), (157.4, 294, 170.8, 188.3),
    (535.8, 265, 403.3, 191.7), (561.5, 245, 494.2, 190.7), (671, 211.7, 705, 181),
    (602.7, 110, 562.7, 163.3), (646.7, 141.7, 623.3, 162.7), (723.3, 258.3, 742.7, 180),
    (793.3, 240.7, 779.3, 203.3), (795, 126, 801.7, 169.3), (835.7, 120.7, 816, 173.3),
    (891, 155.7, 859.3, 176.7), (944.3, 211.7, 922.7, 187.3), (1337.6, 155, 1389.8, 180),
    (1384.4, 118.3, 1467.7, 188.3), (1441.9, 88.3, 1475.8, 157.3), (1571, 142.7, 1626.3, 187.3),
    (1638.7, 196.7, 1638.7, 251.7), (1758, 222.7, 1810.7, 185), (1708.5, 68.3, 1819.8, 165),
    (1791.4, 30.7, 1833.3, 156.7),
]
for x0, y0, x1, y1 in leaders:
    shapes.append(dict(type="line", xref="paper", yref="paper",
                       x0=px2x(x0), y0=py2y(y0), x1=px2x(x1), y1=py2y(y1),
                       line=dict(color="black", width=2)))

ellipses = [(203.6, 180, 261.8, 197.3), (749.3, 157.3, 780.7, 212.3),
            (789.3, 174, 834, 211.7), (834, 166.7, 859, 204)]
for x0, y0, x1, y1 in ellipses:
    shapes.append(dict(type="circle", xref="paper", yref="paper",
                       x0=px2x(x0), y0=py2y(y1), x1=px2x(x1), y1=py2y(y0),
                       line=dict(color="black", width=2)))

C_BROWN = "#8b5a2b"
C_MAG = "#c42a7c"
C_BLACK = "#111111"
C_LGREEN = "#52a86e"
C_BGREEN = "#4c9e35"
C_BLUE = "#1f1fe6"
C_ORANGE = "#f08a24"
C_PURPLE = "#4b3ca0"
C_RED = "#d6284a"
C_GRAY = "#8a8a8a"

labels = [
    ("colon", C_BROWN, 106.8, 30), ("cancer", C_BROWN, 106.8, 50), ("tissue", C_BROWN, 106.8, 69.3),
    ("OCUB-F", C_MAG, 177.1, 32.3), ("breast", C_MAG, 177.1, 52.3), ("cancer", C_MAG, 177.1, 71),
    ("cell line", C_MAG, 177.1, 93.3),
    ("mobilized CD34 primary cells", C_BLACK, 285.5, 26.7),
    ("<u>Fetal tissues</u>", C_BLACK, 388.7, 71),
    ("heart (2), brain (3), kidney (5), lung (2)", C_BLACK, 291.8, 90.7),
    ("abdominal skin fibroblasts", C_BLACK, 315.5, 128.3),
    ("neonatal dermal fibroblasts", C_BLACK, 325, 151.7),
    ("skeletal muscle", C_BLACK, 307.6, 240),
    ("diffuse large B-cell lymphoma", C_LGREEN, 175.2, 266.7),
    ("follicular lymphoma", C_LGREEN, 140.4, 305),
    ("DU145", C_BLUE, 539.7, 263.3), ("prostate", C_BLUE, 539.7, 283.3),
    ("cancer cell line (2)", C_BLUE, 539.7, 303.3),
    ("prostate", C_BLUE, 596.7, 212.7), ("cancer", C_BLUE, 596.7, 232.7), ("tissue", C_BLUE, 596.7, 251.7),
    ("breast cancer tissue", C_MAG, 606.7, 99.3),
    ("RXF-393 renal", C_LGREEN, 645.7, 128.3), ("carcinoma cell line", C_LGREEN, 645.7, 148.3),
    ("stomach", C_BLACK, 695.7, 273.3),
    ("stomach cancer tissues", C_PURPLE, 765.7, 252.3),
    ("lung", C_ORANGE, 774.3, 72.7), ("cancer", C_ORANGE, 774.3, 92.7), ("tissue", C_ORANGE, 774.3, 112.3),
    ("lung", C_ORANGE, 830, 69.3), ("cancer", C_ORANGE, 830, 88.3), ("blood", C_ORANGE, 830, 108.3),
    ("bone marrow tissue", C_BGREEN, 886, 123.3), ("acute myeloid leukemia", C_BGREEN, 886, 143.3),
    ("HeLa cervical cancer cell line", C_RED, 935.7, 221.7),
    ("prostate cancer tissue", C_BLUE, 1201.6, 145),
    ("prostate cancer tissue", C_BLUE, 1258, 110.7),
    ("prostate cancer tissue", C_BLUE, 1324.2, 78.3),
    ("brain tissue", C_BLACK, 1494.6, 115.7), ("bipolar disorder)", C_BLACK, 1494.6, 135.7),
    ("brain tissue", C_BLACK, 1586, 266.7),
    ("brain tissue", C_BLACK, 1685.4, 236.7),
    ("glial brain cancer tissue", C_GRAY, 1557.5, 59),
    ("glial brain cancer tissue", C_GRAY, 1587.6, 17.3),
]
annotations = []
for text, color, px, py in labels:
    annotations.append(dict(text=text, x=px2x(px), y=py2y(py), xref="paper", yref="paper",
                            xanchor="left", yanchor="middle", showarrow=False,
                            font=dict(family=FONT, size=17, color=color)))

annotations.append(dict(text="Affymetrix Exon Array Samples (n=3,924)", x=px2x(966), y=py2y(748),
                        xref="paper", yref="paper", xanchor="center", yanchor="middle",
                        showarrow=False, font=dict(family=FONT, size=28, color="black")))
annotations.append(dict(text="log(UPC)", x=px2x(30), y=py2y(372), textangle=-90,
                        xref="paper", yref="paper", xanchor="center", yanchor="middle",
                        showarrow=False, font=dict(family=FONT, size=28, color="black")))

fig.update_layout(
    width=W, height=H,
    margin=dict(l=ML, r=MR, t=0, b=0, autoexpand=False),
    paper_bgcolor="white", plot_bgcolor="white",
    showlegend=False,
    shapes=shapes, annotations=annotations,
    xaxis=dict(range=[0, N_SAMPLES], visible=False),
    yaxis=dict(range=[Y_BOTTOM, Y_TOP], tickvals=y_ticks, ticks="outside", ticklen=5,
               tickwidth=1.2, tickcolor="#444444", showgrid=False, zeroline=False, showline=False,
               tickfont=dict(family=FONT, size=18, color="#333333")),
    font=dict(family=FONT),
)

fig.write_html("out.html", config={"displayModeBar": False},
               post_script="document.body.style.margin='0px';")
